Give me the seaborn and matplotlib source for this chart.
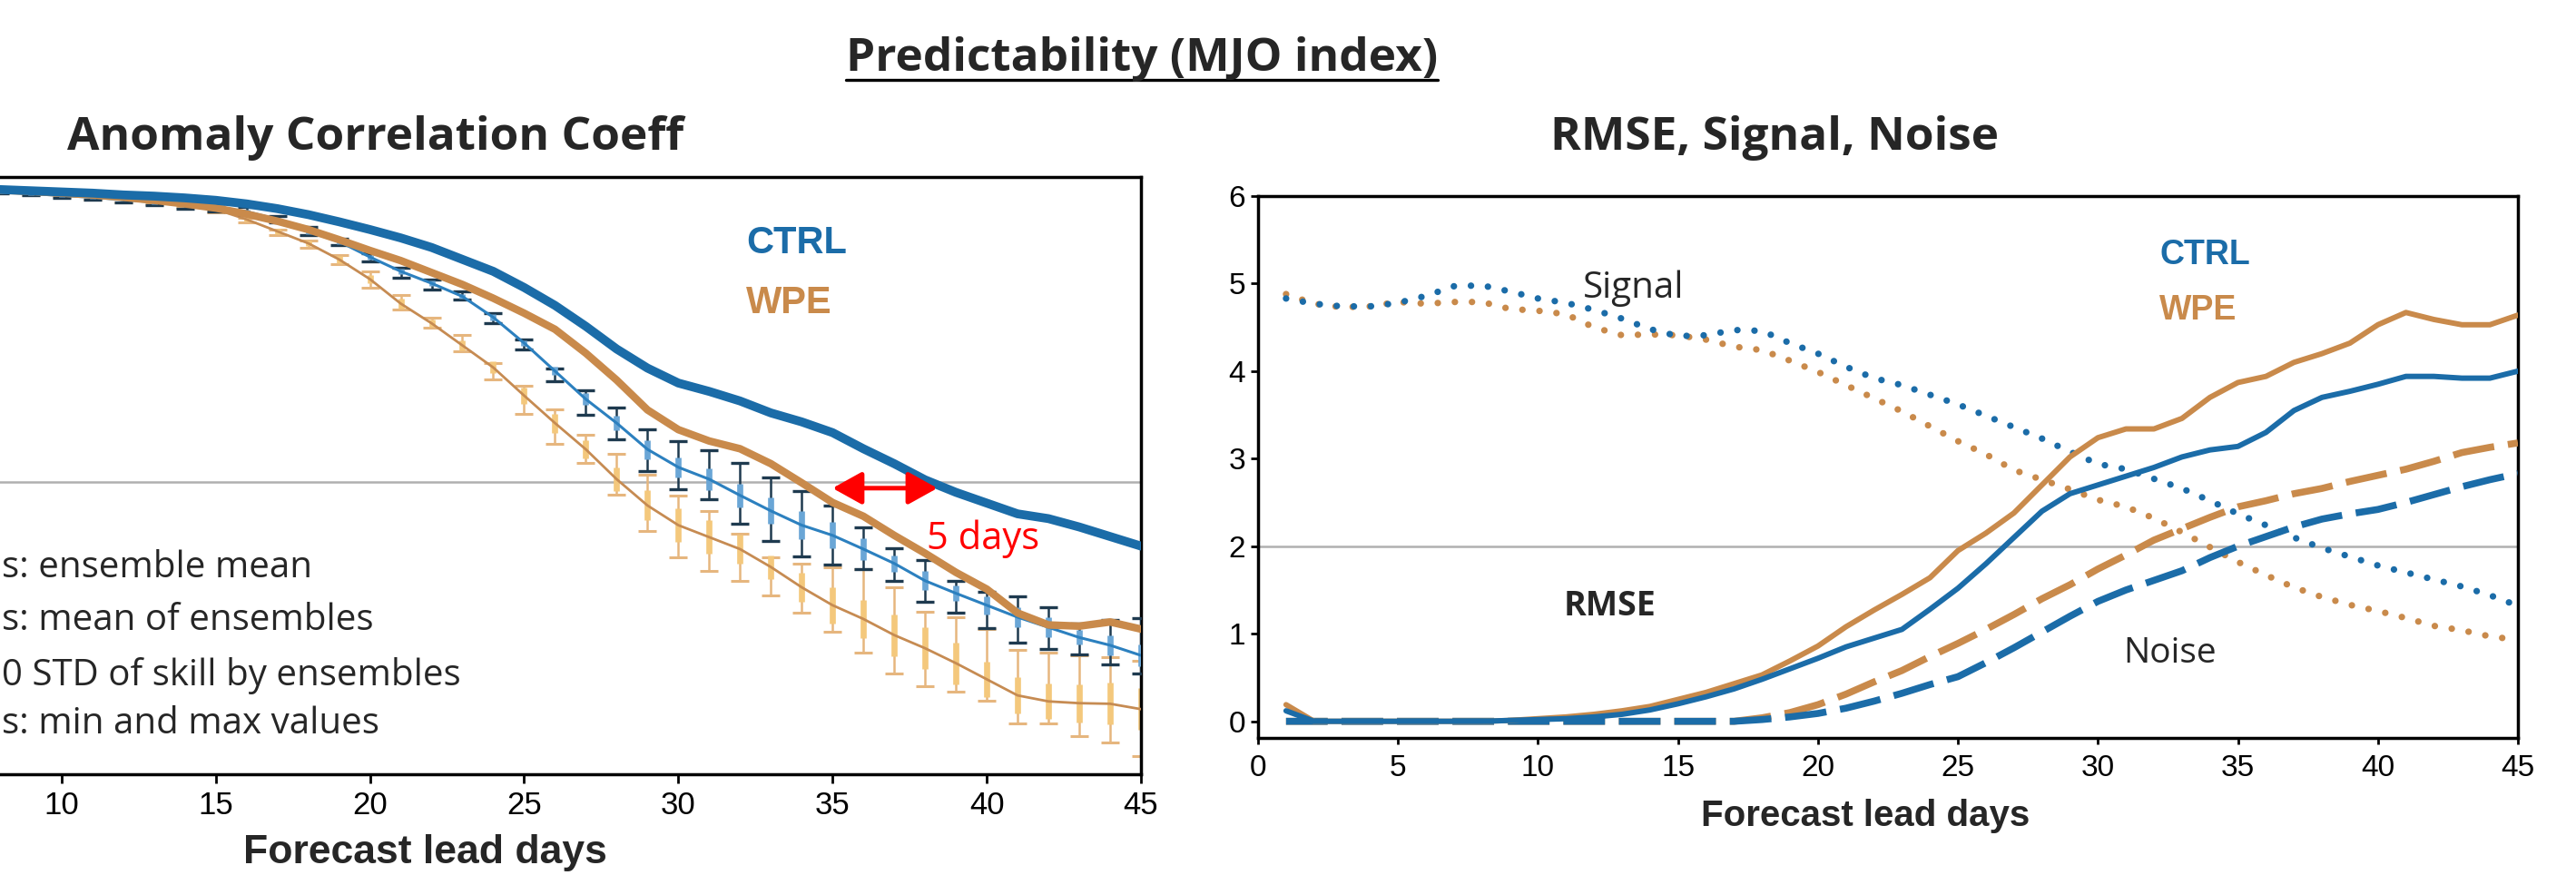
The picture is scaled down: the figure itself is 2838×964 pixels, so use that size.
import matplotlib
matplotlib.use('Agg')
import matplotlib.pyplot as plt
from matplotlib.lines import Line2D
from matplotlib import font_manager
import seaborn as sns

# lead days
days = list(range(1, 46))

# ---- ACC panel (left) ----
ctrl_em = [0.990, 0.989, 0.988, 0.987, 0.985, 0.983, 0.981, 0.979, 0.977, 0.975,
           0.973, 0.970, 0.968, 0.965, 0.961, 0.955, 0.947, 0.937, 0.925, 0.912,
           0.898, 0.882, 0.862, 0.842, 0.815, 0.785, 0.750, 0.712, 0.680, 0.655,
           0.641, 0.625, 0.605, 0.590, 0.572, 0.545, 0.520, 0.493, 0.472, 0.454,
           0.436, 0.428, 0.414, 0.398, 0.382]
wpe_em = [0.990, 0.989, 0.988, 0.986, 0.984, 0.982, 0.980, 0.978, 0.976, 0.973,
          0.970, 0.966, 0.961, 0.955, 0.948, 0.938, 0.926, 0.912, 0.895, 0.877,
          0.860, 0.840, 0.820, 0.797, 0.772, 0.745, 0.705, 0.660, 0.610, 0.577,
          0.558, 0.545, 0.520, 0.488, 0.455, 0.432, 0.400, 0.370, 0.338, 0.310,
          0.270, 0.250, 0.248, 0.255, 0.243]

# mean of ensembles, min / max and STD of the member skills
ctrl_mo = [0.988, 0.987, 0.986, 0.985, 0.983, 0.981, 0.978, 0.975, 0.972, 0.969,
           0.966, 0.962, 0.958, 0.953, 0.949, 0.942, 0.929, 0.909, 0.892, 0.866,
           0.842, 0.822, 0.800, 0.765, 0.722, 0.675, 0.628, 0.588, 0.544, 0.514,
           0.494, 0.467, 0.441, 0.417, 0.400, 0.377, 0.353, 0.324, 0.303, 0.283,
           0.263, 0.246, 0.229, 0.216, 0.199]
ctrl_max = [0.990, 0.989, 0.988, 0.987, 0.985, 0.983, 0.981, 0.978, 0.975, 0.973,
            0.970, 0.967, 0.963, 0.959, 0.956, 0.950, 0.934, 0.916, 0.897, 0.872,
            0.848, 0.829, 0.809, 0.772, 0.728, 0.680, 0.643, 0.614, 0.578, 0.557,
            0.542, 0.522, 0.497, 0.474, 0.450, 0.414, 0.379, 0.358, 0.323, 0.306,
            0.298, 0.280, 0.252, 0.258, 0.261]
ctrl_min = [0.986, 0.985, 0.984, 0.983, 0.981, 0.979, 0.975, 0.972, 0.969, 0.965,
            0.962, 0.957, 0.953, 0.947, 0.942, 0.938, 0.924, 0.902, 0.886, 0.859,
            0.832, 0.812, 0.795, 0.755, 0.712, 0.658, 0.602, 0.561, 0.507, 0.477,
            0.460, 0.420, 0.390, 0.365, 0.351, 0.343, 0.323, 0.288, 0.270, 0.244,
            0.221, 0.209, 0.201, 0.184, 0.168]
ctrl_std = [0.001, 0.001, 0.001, 0.001, 0.001, 0.001, 0.002, 0.002, 0.002, 0.002,
            0.002, 0.002, 0.003, 0.003, 0.003, 0.003, 0.003, 0.004, 0.004, 0.004,
            0.005, 0.005, 0.004, 0.005, 0.005, 0.007, 0.010, 0.012, 0.016, 0.017,
            0.018, 0.020, 0.022, 0.023, 0.022, 0.018, 0.014, 0.016, 0.013, 0.015,
            0.017, 0.017, 0.012, 0.017, 0.018]

wpe_mo = [0.989, 0.988, 0.987, 0.985, 0.983, 0.981, 0.978, 0.976, 0.973, 0.970,
          0.967, 0.963, 0.959, 0.955, 0.946, 0.929, 0.909, 0.889, 0.862, 0.829,
          0.788, 0.755, 0.718, 0.681, 0.634, 0.588, 0.544, 0.494, 0.450, 0.417,
          0.397, 0.377, 0.347, 0.313, 0.283, 0.260, 0.233, 0.211, 0.186, 0.159,
          0.132, 0.122, 0.119, 0.118, 0.109]
wpe_max = [0.990, 0.989, 0.988, 0.987, 0.985, 0.983, 0.980, 0.978, 0.976, 0.973,
           0.970, 0.967, 0.963, 0.960, 0.951, 0.932, 0.912, 0.894, 0.870, 0.842,
           0.802, 0.765, 0.735, 0.689, 0.651, 0.611, 0.569, 0.537, 0.501, 0.467,
           0.440, 0.403, 0.363, 0.353, 0.347, 0.343, 0.313, 0.272, 0.263, 0.243,
           0.208, 0.204, 0.199, 0.196, 0.190]
wpe_min = [0.987, 0.986, 0.985, 0.983, 0.981, 0.978, 0.975, 0.972, 0.969, 0.966,
           0.962, 0.958, 0.954, 0.950, 0.940, 0.924, 0.902, 0.881, 0.854, 0.815,
           0.778, 0.748, 0.708, 0.661, 0.604, 0.553, 0.521, 0.468, 0.408, 0.363,
           0.340, 0.324, 0.299, 0.271, 0.238, 0.204, 0.169, 0.147, 0.138, 0.123,
           0.085, 0.085, 0.064, 0.053, 0.030]
wpe_std = [0.002, 0.002, 0.002, 0.002, 0.002, 0.002, 0.002, 0.002, 0.002, 0.002,
           0.002, 0.002, 0.002, 0.002, 0.002, 0.003, 0.004, 0.004, 0.006, 0.007,
           0.008, 0.006, 0.009, 0.010, 0.014, 0.016, 0.015, 0.020, 0.025, 0.028,
           0.028, 0.024, 0.020, 0.025, 0.030, 0.032, 0.035, 0.035, 0.035, 0.030,
           0.030, 0.030, 0.032, 0.035, 0.035]

# ---- RMSE / signal / noise panel (right) ----
ctrl_rmse = [0.12, 0.00, 0.00, 0.00, 0.00, 0.00, 0.00, 0.00, 0.01, 0.02,
             0.03, 0.05, 0.08, 0.13, 0.20, 0.28, 0.37, 0.48, 0.60, 0.72,
             0.85, 0.95, 1.05, 1.28, 1.52, 1.80, 2.10, 2.40, 2.60, 2.70,
             2.80, 2.90, 3.02, 3.10, 3.14, 3.30, 3.55, 3.70, 3.77, 3.85,
             3.94, 3.94, 3.92, 3.92, 4.00]
wpe_rmse = [0.19, 0.00, 0.00, 0.00, 0.00, 0.00, 0.00, 0.00, 0.01, 0.03,
            0.05, 0.08, 0.12, 0.17, 0.25, 0.33, 0.43, 0.53, 0.69, 0.86,
            1.08, 1.27, 1.45, 1.64, 1.95, 2.15, 2.38, 2.70, 3.02, 3.24,
            3.34, 3.34, 3.46, 3.70, 3.87, 3.94, 4.10, 4.20, 4.32, 4.53,
            4.67, 4.59, 4.53, 4.53, 4.64]
ctrl_noise = [0.00, 0.00, 0.00, 0.00, 0.00, 0.00, 0.00, 0.00, 0.00, 0.00,
              0.00, 0.00, 0.00, 0.00, 0.00, 0.00, 0.00, 0.02, 0.05, 0.09,
              0.15, 0.23, 0.32, 0.42, 0.51, 0.67, 0.84, 1.02, 1.20, 1.37,
              1.50, 1.61, 1.72, 1.87, 2.00, 2.11, 2.22, 2.31, 2.37, 2.42,
              2.50, 2.59, 2.68, 2.76, 2.83]
wpe_noise = [0.00, 0.00, 0.00, 0.00, 0.00, 0.00, 0.00, 0.00, 0.00, 0.00,
             0.00, 0.00, 0.00, 0.00, 0.00, 0.00, 0.00, 0.04, 0.10, 0.19,
             0.31, 0.45, 0.58, 0.74, 0.89, 1.05, 1.22, 1.40, 1.56, 1.74,
             1.90, 2.07, 2.20, 2.33, 2.45, 2.52, 2.60, 2.66, 2.74, 2.81,
             2.88, 2.97, 3.07, 3.13, 3.18]
ctrl_signal = [4.83, 4.77, 4.74, 4.74, 4.78, 4.86, 4.97, 4.98, 4.91, 4.83,
               4.78, 4.70, 4.60, 4.48, 4.40, 4.41, 4.47, 4.46, 4.32, 4.20,
               4.05, 3.92, 3.84, 3.73, 3.62, 3.49, 3.36, 3.23, 3.08, 2.94,
               2.88, 2.77, 2.66, 2.52, 2.37, 2.24, 2.10, 1.98, 1.88, 1.78,
               1.70, 1.62, 1.54, 1.44, 1.32]
wpe_signal = [4.88, 4.77, 4.73, 4.74, 4.79, 4.77, 4.79, 4.79, 4.71, 4.69,
              4.65, 4.50, 4.41, 4.42, 4.41, 4.36, 4.28, 4.24, 4.12, 3.99,
              3.84, 3.69, 3.54, 3.37, 3.20, 3.05, 2.87, 2.76, 2.65, 2.53,
              2.45, 2.32, 2.16, 1.99, 1.82, 1.67, 1.53, 1.42, 1.33, 1.26,
              1.18, 1.09, 1.04, 0.97, 0.93]

acc_ticks = list(range(10, 46, 5))   # 0 and 5 lie outside the cropped picture
rms_xticks = list(range(0, 46, 5))
rms_yticks = list(range(0, 7))

# colours
BLUE = '#1b6ca8'
BROWN = '#c98a4b'
THIN_BLUE = '#2c80bf'
THIN_BROWN = '#c68b52'
NAVY = '#1e3a4f'
STD_BLUE = '#6aa6d6'
WHISK_OR = '#e6b67e'
STD_OR = '#f4c87c'
GREY = '#b0b0b0'

sns.set_theme(style='white')
have = {f.name for f in font_manager.fontManager.ttflist}
NARROW = 'Liberation Sans Narrow' if 'Liberation Sans Narrow' in have else 'Liberation Sans'
plt.rcParams['font.family'] = ['Liberation Sans', 'DejaVu Sans']
CAL = ['Open Sans', 'DejaVu Sans']

W, H = 2838, 964
fig = plt.figure(figsize=(W / 100, H / 100), dpi=100)
fig.patch.set_facecolor('white')

# left axes runs past the left edge of the picture (the source is cropped)
ax1 = fig.add_axes([-272 / W, 111 / H, 1529 / W, 658 / H])
ax2 = fig.add_axes([1386 / W, 151 / H, 1388 / W, 597 / H])

# ---------------- ACC ----------------
ax1.axhline(0.49, color=GREY, lw=1.8, zorder=1)
lo = [m - v for m, v in zip(wpe_mo, wpe_min)]
hi = [v - m for m, v in zip(wpe_mo, wpe_max)]
ax1.errorbar(days, wpe_mo, yerr=[lo, hi], fmt='none', ecolor=WHISK_OR,
             elinewidth=1.8, capsize=7, capthick=2.2, zorder=2)
ax1.errorbar(days, wpe_mo, yerr=wpe_std, fmt='none', ecolor=STD_OR,
             elinewidth=4.8, capsize=0, zorder=2.5)
sns.lineplot(x=days, y=wpe_mo, ax=ax1, color=THIN_BROWN, lw=2.0, zorder=3)

lo = [m - v for m, v in zip(ctrl_mo, ctrl_min)]
hi = [v - m for m, v in zip(ctrl_mo, ctrl_max)]
ax1.errorbar(days, ctrl_mo, yerr=[lo, hi], fmt='none', ecolor=NAVY,
             elinewidth=1.8, capsize=7, capthick=2.4, zorder=4)
ax1.errorbar(days, ctrl_mo, yerr=ctrl_std, fmt='none', ecolor=STD_BLUE,
             elinewidth=4.8, capsize=0, zorder=4.5)
sns.lineplot(x=days, y=ctrl_mo, ax=ax1, color=THIN_BLUE, lw=2.2, zorder=5)

sns.lineplot(x=days, y=wpe_em, ax=ax1, color=BROWN, lw=6.0, zorder=6)
sns.lineplot(x=days, y=ctrl_em, ax=ax1, color=BLUE, lw=7.0, zorder=7)

ax1.set_xlim(0, 45)
ax1.set_ylim(0, 1)
ax1.set_xticks(acc_ticks)
ax1.set_xticklabels([str(t) for t in acc_ticks], family=NARROW)
ax1.tick_params(axis='x', bottom=True, direction='out', length=7, width=2,
                labelsize=25, pad=6, colors='black')
ax1.set_yticks([])
ax1.set_xlabel('Forecast lead days', fontsize=32, fontweight='bold')
ax1.xaxis.set_label_coords(0.484, -0.100)

# 5 days arrow between the two 0.5 crossings
ax1.annotate('', xy=(35.0, 0.479), xytext=(38.4, 0.479),
             arrowprops=dict(arrowstyle='<|-|>,head_length=0.9,head_width=0.5',
                             color='red', lw=3.6, mutation_scale=22,
                             shrinkA=0, shrinkB=0), zorder=8)
ax1.text(38.06, 0.377, '5 days', color='red', fontsize=30, family=CAL,
         ha='left', va='baseline')
ax1.text(32.2, 0.872, 'CTRL', color=BLUE, fontsize=30, fontweight='bold',
         ha='left', va='baseline')
ax1.text(32.2, 0.772, 'WPE', color=BROWN, fontsize=30, fontweight='bold',
         ha='left', va='baseline')

# ---------------- RMSE / Signal / Noise ----------------
ax2.axhline(2, color=GREY, lw=1.8, zorder=1)
dot = (0, (0.01, 2.6))
dash = (0, (6, 2))
sns.lineplot(x=days, y=wpe_signal, ax=ax2, color=BROWN, lw=5.2,
             linestyle=dot, dash_capstyle='round', zorder=2)
sns.lineplot(x=days, y=ctrl_signal, ax=ax2, color=BLUE, lw=5.2,
             linestyle=dot, dash_capstyle='round', zorder=3)
sns.lineplot(x=days, y=wpe_noise, ax=ax2, color=BROWN, lw=5.5,
             linestyle=dash, zorder=4)
sns.lineplot(x=days, y=ctrl_noise, ax=ax2, color=BLUE, lw=5.5,
             linestyle=dash, zorder=5)
sns.lineplot(x=days, y=wpe_rmse, ax=ax2, color=BROWN, lw=4.3, zorder=6)
sns.lineplot(x=days, y=ctrl_rmse, ax=ax2, color=BLUE, lw=4.3, zorder=7)

ax2.set_xlim(0, 45)
ax2.set_ylim(-0.19, 6)
ax2.set_xticks(rms_xticks)
ax2.set_xticklabels([str(t) for t in rms_xticks], family=NARROW)
ax2.set_yticks(rms_yticks)
ax2.set_yticklabels([str(t) for t in rms_yticks], family=NARROW)
ax2.tick_params(axis='x', bottom=True, direction='out', length=5, width=2,
                labelsize=24, pad=8, colors='black')
ax2.tick_params(axis='y', left=True, direction='out', length=6, width=2,
                labelsize=24, pad=4, colors='black')
ax2.set_xlabel('Forecast lead days', fontsize=29, fontweight='bold')
ax2.xaxis.set_label_coords(0.482, -0.112)

ax2.text(11.6, 4.84, 'Signal', fontsize=29, family=CAL, ha='left', va='baseline')
ax2.text(10.9, 1.21, 'RMSE', fontsize=27, family=CAL, fontweight='bold',
         ha='left', va='baseline')
ax2.text(30.9, 0.67, 'Noise', fontsize=28, family=CAL, ha='left', va='baseline')
ax2.text(32.2, 5.22, 'CTRL', color=BLUE, fontsize=27, fontweight='bold',
         ha='left', va='baseline')
ax2.text(32.2, 4.59, 'WPE', color=BROWN, fontsize=27, fontweight='bold',
         ha='left', va='baseline')

for ax in (ax1, ax2):
    for s in ax.spines.values():
        s.set_visible(True)
        s.set_color('black')
        s.set_linewidth(2.5)
    ax.set_ylabel('')
    ax.grid(False)

# ---------------- titles and notes ----------------
title = fig.text(1258 / W, 1 - 78 / H, 'Predictability (MJO index)', fontsize=37,
                 fontweight='bold', family=CAL, ha='center', va='baseline')
fig.text(414 / W, 1 - 165 / H, 'Anomaly Correlation Coeff', fontsize=37,
         fontweight='bold', family=CAL, ha='center', va='baseline')
fig.text(1955 / W, 1 - 165 / H, 'RMSE, Signal, Noise', fontsize=37,
         fontweight='bold', family=CAL, ha='center', va='baseline')

notes = ['s: ensemble mean', 's: mean of ensembles',
         '0 STD of skill by ensembles', 's: min and max values']
note_y = [636, 694, 755, 808]
for t, yy in zip(notes, note_y):
    fig.text(2 / W, 1 - yy / H, t, fontsize=29, family=CAL, ha='left', va='baseline')

# underline the main title
fig.canvas.draw()
bb = title.get_window_extent().transformed(fig.transFigure.inverted())
fig.add_artist(Line2D([bb.x0, bb.x1], [1 - 88 / H, 1 - 88 / H],
                      transform=fig.transFigure, color='black', lw=2.4))

fig.savefig('out.png', dpi=100, facecolor='white')
